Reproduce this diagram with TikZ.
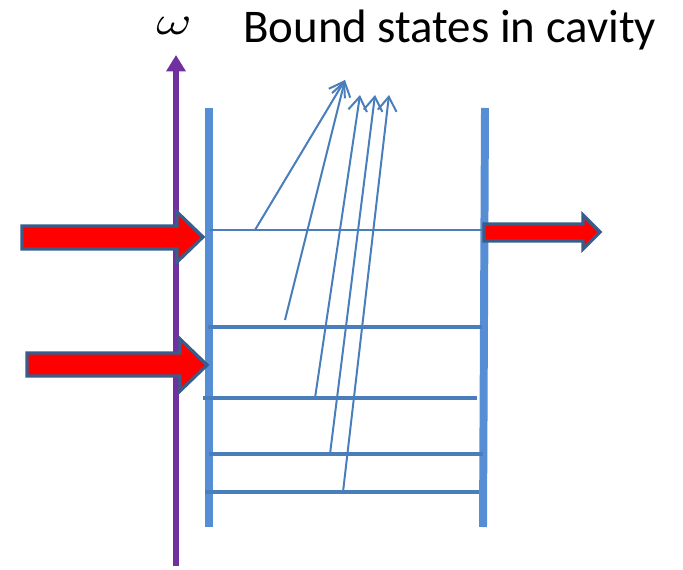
\documentclass[tikz,border=0pt]{standalone}
\usepackage{fontspec}
\setmainfont{Carlito}
\usepackage{tikz}
\usetikzlibrary{arrows.meta}
\definecolor{wallblue}{RGB}{85, 142, 213}
\definecolor{lineblue}{RGB}{74, 126, 187}
\definecolor{axispurple}{RGB}{112, 48, 160}
\definecolor{arrowedge}{RGB}{56, 93, 138}

\begin{document}
\begin{tikzpicture}[
    x=0.03cm, y=-0.03cm,
    wall/.style={draw=wallblue, line width=6.8pt},
    level/.style={draw=lineblue, line width=2.6pt},
    transition/.style={draw=lineblue, line width=1.7pt, -{Straight Barb[length=12pt,width=16pt]}},
    beam/.style={fill=red, draw=arrowedge, line width=2.8pt, line join=miter},
]
\useasboundingbox (0,0) rectangle (683,569);

% --- frequency axis ---
\draw[axispurple, line width=4.3pt, -{Triangle[length=14pt,width=16pt]}] (176,566) -- (176,55);
\node[xscale=4.6, yscale=3.4, anchor=base, inner sep=0pt] at (174,35) {$\omega$};

% --- title ---
\node[font=\fontsize{40}{48}\selectfont, anchor=base west, inner sep=0pt] at (243,43) {Bound states in cavity};

% --- cavity walls ---
\draw[wall] (209,108) -- (209,527);
\draw[wall] (485,108) -- (483,527);

% --- bound levels ---
\draw[level, line width=1.7pt] (210,230) -- (483,230);
\draw[level] (208,327) -- (482,327);
\draw[level, line width=3.4pt] (203,398) -- (477,398);
\draw[level] (209,454) -- (483,454);
\draw[level, line width=3pt] (205,492) -- (479,492);

% --- transitions up out of the cavity ---
\draw[transition] (255,230) -- (345,80);
\draw[transition] (285,320) -- (345,80);
\draw[transition] (315,398) -- (360,95);
\draw[transition] (330,454) -- (375,95);
\draw[transition] (343,492) -- (389,95);

% --- incoming and outgoing beams ---
\draw[beam] (22,226) -- (177,226) -- (177,212) -- (203,237) -- (177,262) -- (177,249) -- (22,249) -- cycle;
\draw[beam] (27,353) -- (180,353) -- (180,339) -- (207,365) -- (180,391) -- (180,376) -- (27,376) -- cycle;
\draw[beam] (484,224) -- (583,224) -- (583,215) -- (600,232) -- (583,249) -- (583,241) -- (484,241) -- cycle;

\end{tikzpicture}
\end{document}
